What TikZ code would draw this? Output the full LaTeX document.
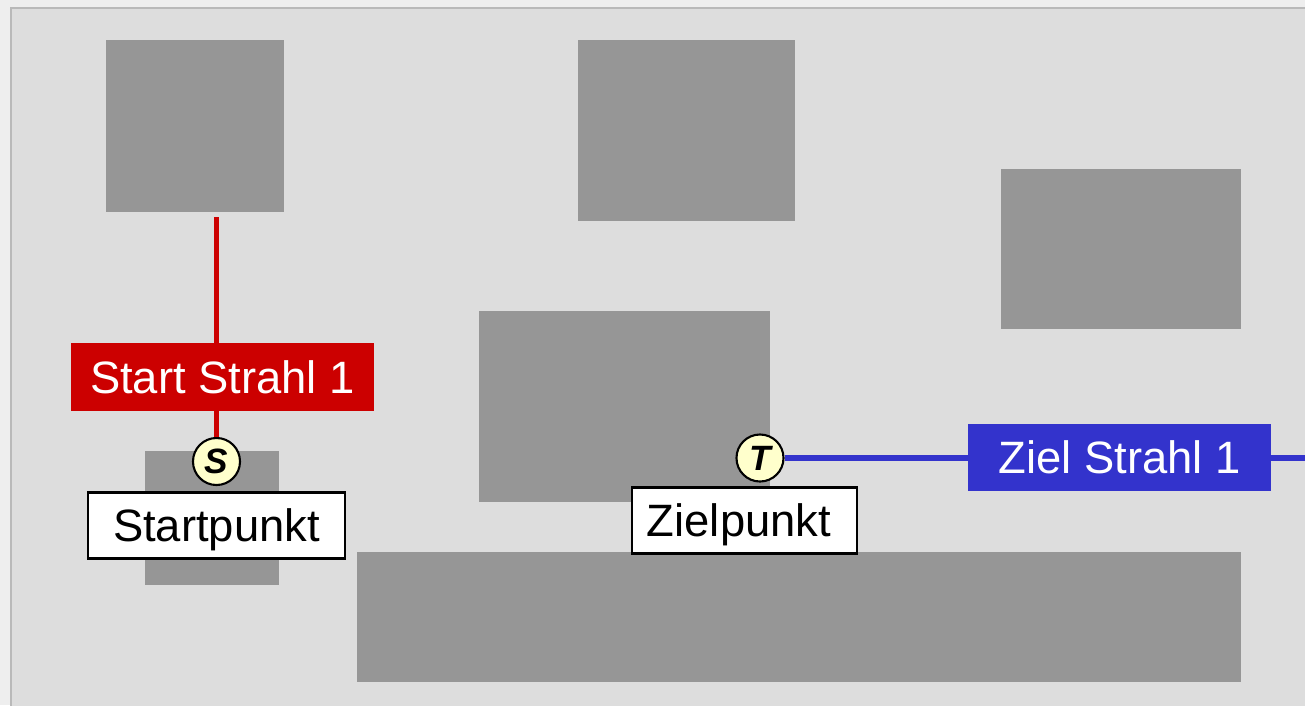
\documentclass[tikz,border=0pt]{standalone}
\usepackage{fontspec}
\setmainfont{Liberation Sans}
\usetikzlibrary{calc,positioning}

\definecolor{outerbg}{HTML}{EEEEEE}
\definecolor{panelbg}{HTML}{DDDDDD}
\definecolor{panelrim}{HTML}{B9B9B9}
\definecolor{obstacle}{HTML}{969696}
\definecolor{rayred}{HTML}{CC0000}
\definecolor{rayblue}{HTML}{3333CC}
\definecolor{pointfill}{HTML}{FFFFCC}

\tikzset{
  obst/.style={fill=obstacle},
  raylabel/.style={text=white, inner sep=0pt, font=\fontsize{12.9pt}{14pt}\selectfont,
    minimum width=3.03cm, minimum height=0.675cm},
  pointlabel/.style={draw=black, line width=0.6pt, fill=white, inner sep=0pt,
    text depth=0pt, font=\fontsize{12.9pt}{14pt}\selectfont, minimum height=0.66cm},
  pointmark/.style={circle, draw=black, line width=0.6pt, fill=pointfill, inner sep=0pt,
    minimum size=0.47cm, font=\fontsize{10pt}{11pt}\selectfont\bfseries\itshape},
  ray/.style={line width=1.5pt}
}

\begin{document}
\begin{tikzpicture}[x=0.01cm,y=-0.01cm]
	%% Canvas and panel
	\useasboundingbox (0,0) rectangle (1305,705);
	\clip (0,0) rectangle (1305,705);
	\fill[outerbg] (0,0) rectangle (1305,705);
	\filldraw[fill=panelbg, draw=panelrim, line width=0.6pt] (11,8) rectangle (1330,730);

	%% Obstacles
	\fill[obst] (106,40) rectangle (284,212);
	\fill[obst] (578,40) rectangle (795,221);
	\fill[obst] (1001,169) rectangle (1241,329);
	\fill[obst] (479,311) rectangle (770,502);
	\fill[obst] (145,451) rectangle (279,585);
	\fill[obst] (357,552) rectangle (1241,682);

	%% Start and target points
	\node[pointmark] (S) at (216.5,461.5) {S};
	\node[pointmark] (T) at (760,458) {T};
	\node[pointlabel, minimum width=2.57cm] (startpunkt) at (216.5,525.5) {Startpunkt};
	\node[pointlabel, text width=1.95cm, inner xsep=0.15cm, align=left] (zielpunkt)
	  at (744.5,520.5) {Zielpunkt};

	%% Rays
	\coordinate (R1) at (216.5,217); % red ray end
	\coordinate (R2) at (1310,458); % blue ray end
	\draw[ray, rayred] (R1) -- (S);
	\draw[ray, rayblue] (T.east) -- (R2);

	%% Ray labels
	\node[raylabel, fill=rayred] (startray) at (222.5,377) {Start Strahl 1};
	\node[raylabel, fill=rayblue] (zielray) at (1119.5,457.5) {Ziel Strahl 1};
\end{tikzpicture}
\end{document}
